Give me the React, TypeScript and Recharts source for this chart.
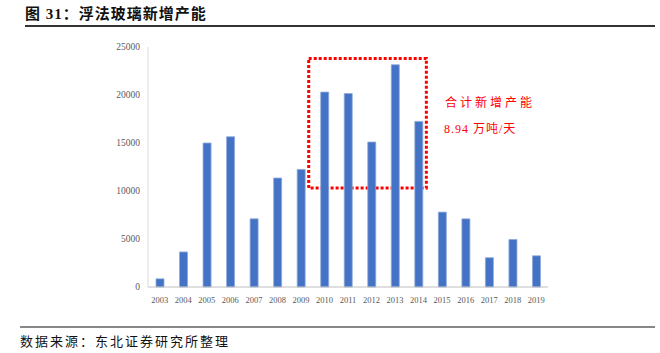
import { BarChart, Bar, XAxis, YAxis, ReferenceArea } from 'recharts'

const years = ['2003', '2004', '2005', '2006', '2007', '2008', '2009', '2010', '2011', '2012', '2013', '2014', '2015', '2016', '2017', '2018', '2019']
const newCapacity = [850, 3650, 15000, 15650, 7100, 11350, 12250, 20300, 20150, 15100, 23150, 17250, 7800, 7100, 3050, 4950, 3250]
const yTicks = [0, 5000, 10000, 15000, 20000, 25000]

const title = '图 31：浮法玻璃新增产能'
const source = '数据来源：东北证券研究所整理'
const noteLine1 = '合计新增产能'
const noteLine2 = '8.94 万吨/天'

const data = years.map((year, i) => ({ year, value: newCapacity[i] }))

const serif = '"Liberation Serif", "Times New Roman", serif'
const cjk = '"Liberation Serif", "Noto Sans CJK SC", serif'

// dotted highlight box, nudged a little left like the original
const HighlightBox = (props: any) => {
  const { x, y, width, height } = props
  return (
    <rect
      x={x - 4}
      y={y}
      width={width}
      height={height}
      fill="none"
      stroke="#ff0000"
      strokeWidth={3}
      strokeDasharray="3 2"
    />
  )
}

export default function App() {
  return (
    <div style={{ position: 'absolute', left: 0, top: 0, width: 660, height: 353, background: '#fff', overflow: 'hidden' }}>
      <div style={{ position: 'absolute', left: 25, top: 4, fontFamily: cjk, fontWeight: 'bold', fontSize: 15, color: '#111', lineHeight: '20px', letterSpacing: 1 }}>
        {title}
      </div>
      <div style={{ position: 'absolute', left: 25, top: 25, width: 630, height: 2, background: '#333' }} />

      <div style={{ position: 'absolute', left: 0, top: 0 }}>
        <BarChart width={660} height={353} data={data} margin={{ top: 47, right: 112, bottom: 46, left: 88 }}>
          <XAxis
            dataKey="year"
            height={20}
            tickLine={false}
            axisLine={{ stroke: '#bfbfbf' }}
            tick={{ fill: '#595959', fontSize: 8.5, fontFamily: serif }}
            tickMargin={4}
            interval={0}
          />
          <YAxis
            width={60}
            domain={[0, 25000]}
            ticks={yTicks}
            tickLine={false}
            axisLine={{ stroke: '#d9d9d9' }}
            tick={{ fill: '#595959', fontSize: 9.5, fontFamily: serif }}
            tickMargin={2}
          />
          <Bar dataKey="value" fill="#4472C4" stroke="#8eaadb" strokeWidth={0.8} barSize={8} isAnimationActive={false} />
          <ReferenceArea
            x1="2010"
            x2="2014"
            y1={10300}
            y2={23800}
            ifOverflow="visible"
            shape={HighlightBox}
          />
        </BarChart>
      </div>

      <div style={{ position: 'absolute', left: 445, top: 95, fontFamily: cjk, fontSize: 12, color: '#ff0000', letterSpacing: 3, lineHeight: '16px' }}>
        {noteLine1}
      </div>
      <div style={{ position: 'absolute', left: 444, top: 121, fontFamily: cjk, fontSize: 12, color: '#ff0000', letterSpacing: 1, lineHeight: '16px' }}>
        {noteLine2}
      </div>

      <div style={{ position: 'absolute', left: 20, top: 326, width: 635, height: 2, background: '#888' }} />
      <div style={{ position: 'absolute', left: 20, top: 334, fontFamily: cjk, fontSize: 13, color: '#111', letterSpacing: 2, lineHeight: '16px' }}>
        {source}
      </div>
    </div>
  )
}
